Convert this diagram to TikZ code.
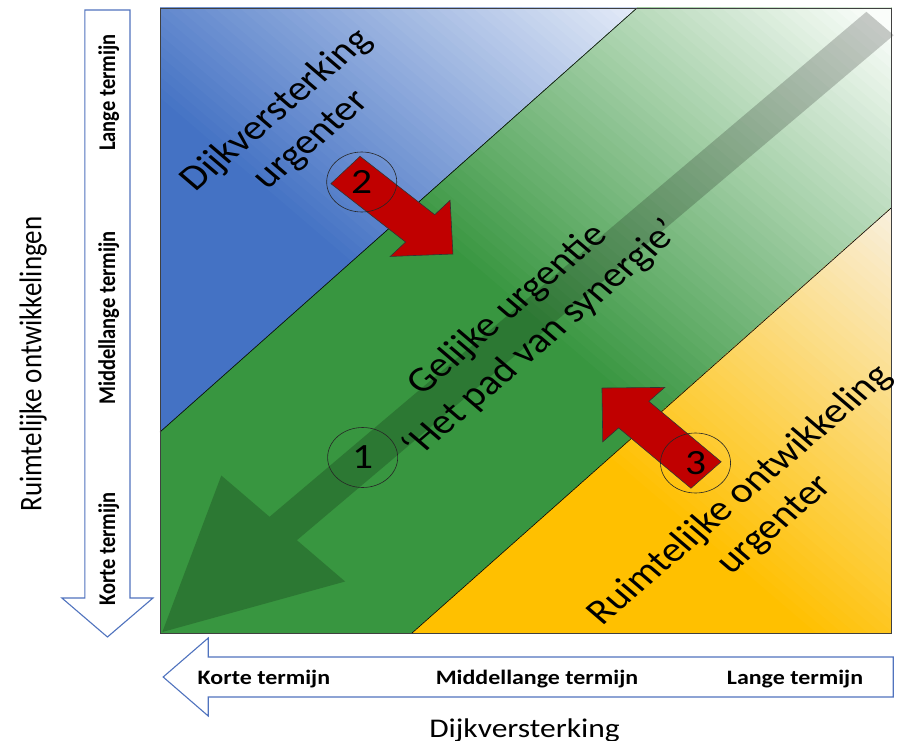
\documentclass[tikz,border=0pt]{standalone}
\usepackage{fontspec}
\setmainfont{Carlito}
\definecolor{rblue}{RGB}{68,114,196}
\definecolor{rbluel}{RGB}{236,241,250}
\definecolor{rgreen}{RGB}{56,150,64}
\definecolor{rgreenl}{RGB}{250,253,250}
\definecolor{ryel}{RGB}{255,192,0}
\definecolor{ryell}{RGB}{248,245,248}
\definecolor{rred}{RGB}{192,0,0}
\definecolor{axblue}{RGB}{80,115,190}
\newcommand\diaggrad[4]{%
  \fill[#1] (-20,0) rectangle (650,650);
  \foreach \gi in {0,...,50}{%
    \pgfmathsetmacro\gT{#3+(#4-#3)*\gi/50}%
    \pgfmathsetmacro\gP{2*\gi}%
    \fill[fill={#2!\gP!#1}] ({626*\gT-626},{8-625*\gT}) -- ({626*\gT+626},{1258-625*\gT}) -- ({626*\gT+1252},{633-625*\gT}) -- ({626*\gT},{-617-625*\gT}) -- cycle;
  }}
\begin{document}
\begin{tikzpicture}[x=1pt,y=-1pt,
  bigtxt/.style={font=\fontsize{35.5}{42}\selectfont, align=center, rotate=45, transform shape, inner sep=0pt},
  smtxt/.style={font=\bfseries\fontsize{20.5}{24}\selectfont, transform shape, inner sep=0pt},
  midtxt/.style={font=\fontsize{27}{32}\selectfont, transform shape, inner sep=0pt},
  numc/.style={circle, draw=black!85, line width=0.6pt, minimum size=60, inner sep=0pt, transform shape, font=\fontsize{35.5}{40}\selectfont},
  redarr/.style={fill=rred, draw=black!80, line width=0.6pt, line join=miter},
  axarr/.style={draw=axblue, fill=white, line width=1.1pt, line join=miter},
  bound/.style={draw=black, line width=0.6pt}]
\fill[white] (0,0) rectangle (897,741);
\useasboundingbox (0,0) rectangle (897,741);
\begin{scope}[shift={(160,0)}, xscale=1.168]
  % regions
  \begin{scope}
    \clip (0,8) -- (408.4,8) -- (0,432) -- cycle;
    \diaggrad{rblue}{rbluel}{0.42}{0.84}
  \end{scope}
  \begin{scope}
    \clip (0,432) -- (408.4,8) -- (626,8) -- (626,208) -- (215.8,633) -- (0,633) -- cycle;
    \diaggrad{rgreen}{rgreenl}{0.5}{0.98}
  \end{scope}
  \begin{scope}
    \clip (215.8,633) -- (626,633) -- (626,208) -- cycle;
    \diaggrad{ryel}{ryell}{0.44}{0.88}
  \end{scope}
  \draw[bound] (0,432) -- (408.4,8);
  \draw[bound] (215.8,633) -- (626,208);
  % grey path arrow
  \fill[black, opacity=0.2] (2,632) -- (52.5,475.5) -- (93.8,516.8) -- (604.8,11.8) -- (628.2,35.2) -- (117.2,540.2) -- (158.5,581.5) -- cycle;
  % square border
  \draw[black!75, line width=0.8pt] (0,8) rectangle (626,633);
  % red arrows
  \begin{scope}[shift={(158.8,170)}, rotate=-42.4]
    \draw[redarr] (0,-18.5) -- (86.6,-18.5) -- (86.6,-38) -- (124.6,0) -- (86.6,38) -- (86.6,18.5) -- (0,18.5) -- cycle;
  \end{scope}
  \begin{scope}[shift={(467.5,475)}, rotate=135.7]
    \draw[redarr] (0,-18.5) -- (86.5,-18.5) -- (86.5,-38) -- (124.5,0) -- (86.5,38) -- (86.5,18.5) -- (0,18.5) -- cycle;
  \end{scope}
  % numbered circles
  \node[numc] (n1) at (173.5,457.5) {1};
  \node[numc] (n2) at (172.7,182) {2};
  \node[numc] (n3) at (458.5,463) {3};
  % region labels
  \node[bigtxt] (lblue) at (114.9,125.4) {Dijkversterking\\urgenter};
  \node[bigtxt] (lgreen) at (312.5,325) {Gelijke urgentie\\‘Het pad van synergie’};
  \node[bigtxt] (lyel) at (511.5,510) {Ruimtelijke ontwikkeling\\urgenter};
  % left axis arrow
  \draw[axarr] (-64.3,10) -- (-25.7,10) -- (-25.7,598) -- (-6,598) -- (-45,637) -- (-84,598) -- (-64.3,598) -- cycle;
  \node[smtxt, rotate=90, anchor=base] (vl) at (-38.5,92.5) {Lange termijn};
  \node[smtxt, rotate=90, anchor=base] (vm) at (-38.5,318) {Middellange termijn};
  \node[smtxt, rotate=90, anchor=base] (vk) at (-38.5,549) {Korte termijn};
  \node[midtxt, rotate=90, anchor=base] (yaxis) at (-101.5,364) {Ruimtelijke ontwikkelingen};
  % bottom axis arrow
  \draw[axarr] (627.8,657) -- (41.3,657) -- (41.3,638) -- (2.7,677) -- (41.3,716) -- (41.3,697) -- (627.8,697) -- cycle;
  \node[smtxt, anchor=base] (hk) at (89,684) {Korte termijn};
  \node[smtxt, anchor=base] (hm) at (322.8,684) {Middellange termijn};
  \node[smtxt, anchor=base] (hl) at (543.7,684) {Lange termijn};
  \node[midtxt, anchor=base] (xaxis) at (312.1,737) {Dijkversterking};
\end{scope}
\end{tikzpicture}
\end{document}
